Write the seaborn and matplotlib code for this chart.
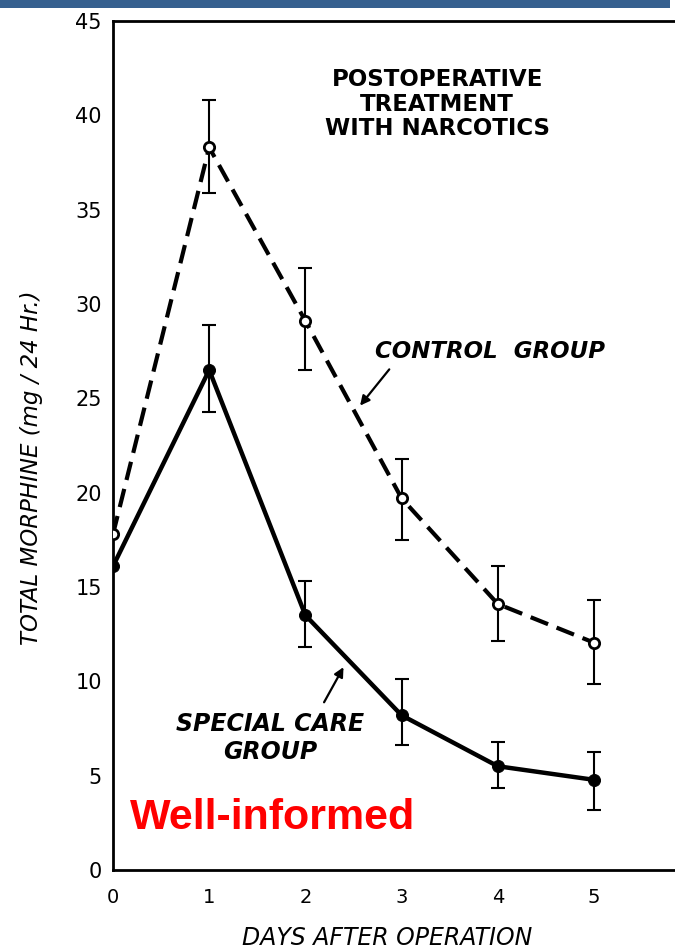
import numpy as np
import pandas as pd
import matplotlib
matplotlib.use("Agg")
import matplotlib.pyplot as plt
import seaborn as sns

# ---- data ----
days = [0, 1, 2, 3, 4, 5]
control_mean = [17.8, 38.3, 29.1, 19.7, 14.1, 12.05]
control_low = [17.8, 35.9, 26.5, 17.5, 12.15, 9.87]
control_high = [17.8, 40.8, 31.9, 21.8, 16.1, 14.33]
special_mean = [16.1, 26.5, 13.5, 8.2, 5.5, 4.78]
special_low = [16.1, 24.3, 11.8, 6.6, 4.35, 3.18]
special_high = [16.1, 28.9, 15.3, 10.1, 6.8, 6.26]
x_ticks = [0, 1, 2, 3, 4, 5]
y_ticks = [0, 5, 10, 15, 20, 25, 30, 35, 40, 45]

sns.set_theme(style="white")
plt.rcParams['font.family'] = ['DejaVu Sans']
plt.rcParams['text.color'] = 'black'
plt.rcParams['axes.labelcolor'] = 'black'
plt.rcParams['xtick.color'] = 'black'
plt.rcParams['ytick.color'] = 'black'

W, H = 675, 950
fig = plt.figure(figsize=(W / 100, H / 100), dpi=100)
fig.patch.set_facecolor("white")

# blue header bar
fig.patches.append(plt.Rectangle((0, 1 - 8 / H), 670 / W, 8 / H, transform=fig.transFigure,
                                 facecolor="#36608f", edgecolor="none", zorder=5))

left = 113 / W
bottom = (H - 870) / H
top = (H - 21) / H
ax = fig.add_axes([left, bottom, 1 - left, top - bottom])
ax.set_facecolor("white")

df = pd.DataFrame({
    "day": days * 2,
    "value": control_mean + special_mean,
    "group": ["Control"] * len(days) + ["Special"] * len(days),
})

sns.lineplot(data=df[df.group == "Control"], x="day", y="value", ax=ax, color="black",
             linewidth=3, dashes=False, zorder=3, legend=False)
ax.lines[-1].set_dashes((4.5, 2.2))
sns.lineplot(data=df[df.group == "Special"], x="day", y="value", ax=ax, color="black",
             linewidth=3.2, zorder=3, legend=False)

# error bars (days 1..5)
for mean, lo, hi in [(control_mean, control_low, control_high),
                     (special_mean, special_low, special_high)]:
    m = np.array(mean[1:]); l = np.array(lo[1:]); h = np.array(hi[1:])
    ax.errorbar(days[1:], m, yerr=[m - l, h - m], fmt="none", ecolor="black",
                elinewidth=1.5, capsize=5, capthick=1.5, zorder=2)

sns.scatterplot(x=days, y=control_mean, ax=ax, marker="o", s=55, facecolor="white",
                edgecolor="black", linewidth=2, zorder=4, legend=False)
sns.scatterplot(x=days, y=special_mean, ax=ax, marker="o", s=75, color="black",
                edgecolor="black", zorder=4, legend=False)

ax.set_xlim(0, (W - 113) / 96.2)
ax.set_ylim(0, 45)
ax.set_xticks(x_ticks)
ax.set_yticks(y_ticks)
ax.set_xticklabels([str(t) for t in x_ticks], fontsize=14)
ax.set_yticklabels([str(t) for t in y_ticks], fontsize=15)
ax.tick_params(axis="both", direction="in", length=14, width=1.6, colors="black")
ax.tick_params(axis="x", pad=13)
ax.tick_params(axis="y", pad=8)
for s in ["left", "bottom", "top"]:
    ax.spines[s].set_visible(True)
    ax.spines[s].set_color("black")
    ax.spines[s].set_linewidth(2)
ax.spines["right"].set_visible(False)
ax.grid(False)

ax.set_xlabel("DAYS AFTER OPERATION", fontsize=17, style="italic")
ax.xaxis.set_label_coords((387 - 113) / (W - 113), -(938 - 870) / 849)
ax.xaxis.label.set_va("center")
ax.set_ylabel("TOTAL MORPHINE (mg / 24 Hr.)", fontsize=16.5, style="italic")
ax.yaxis.set_label_coords(-(113 - 32) / (W - 113), (870 - 468) / 849)
ax.yaxis.label.set_va("center")

ax.text(3.37, 40.6, "POSTOPERATIVE\nTREATMENT\nWITH NARCOTICS", ha="center", va="center",
        fontsize=16.5, fontweight="bold", linespacing=1.1)
ax.text(3.92, 27.5, "CONTROL  GROUP", ha="center", va="center", fontsize=16.5,
        style="italic", fontweight="bold")
ax.text(1.63, 7.0, "SPECIAL CARE\nGROUP", ha="center", va="center", fontsize=17,
        style="italic", fontweight="bold", linespacing=1.2)

ax.annotate("", xy=(2.55, 24.5), xytext=(2.89, 26.65),
            arrowprops=dict(arrowstyle="-|>", color="black", lw=1.6, mutation_scale=14))
ax.annotate("", xy=(2.41, 10.88), xytext=(2.18, 8.76),
            arrowprops=dict(arrowstyle="-|>", color="black", lw=1.6, mutation_scale=14))

ax.text(1.66, 2.75, "Well-informed", ha="center", va="center", fontsize=31,
        fontweight="bold", color="#ff0000", family=["Liberation Sans", "DejaVu Sans"])

fig.savefig("out.png", dpi=100)
